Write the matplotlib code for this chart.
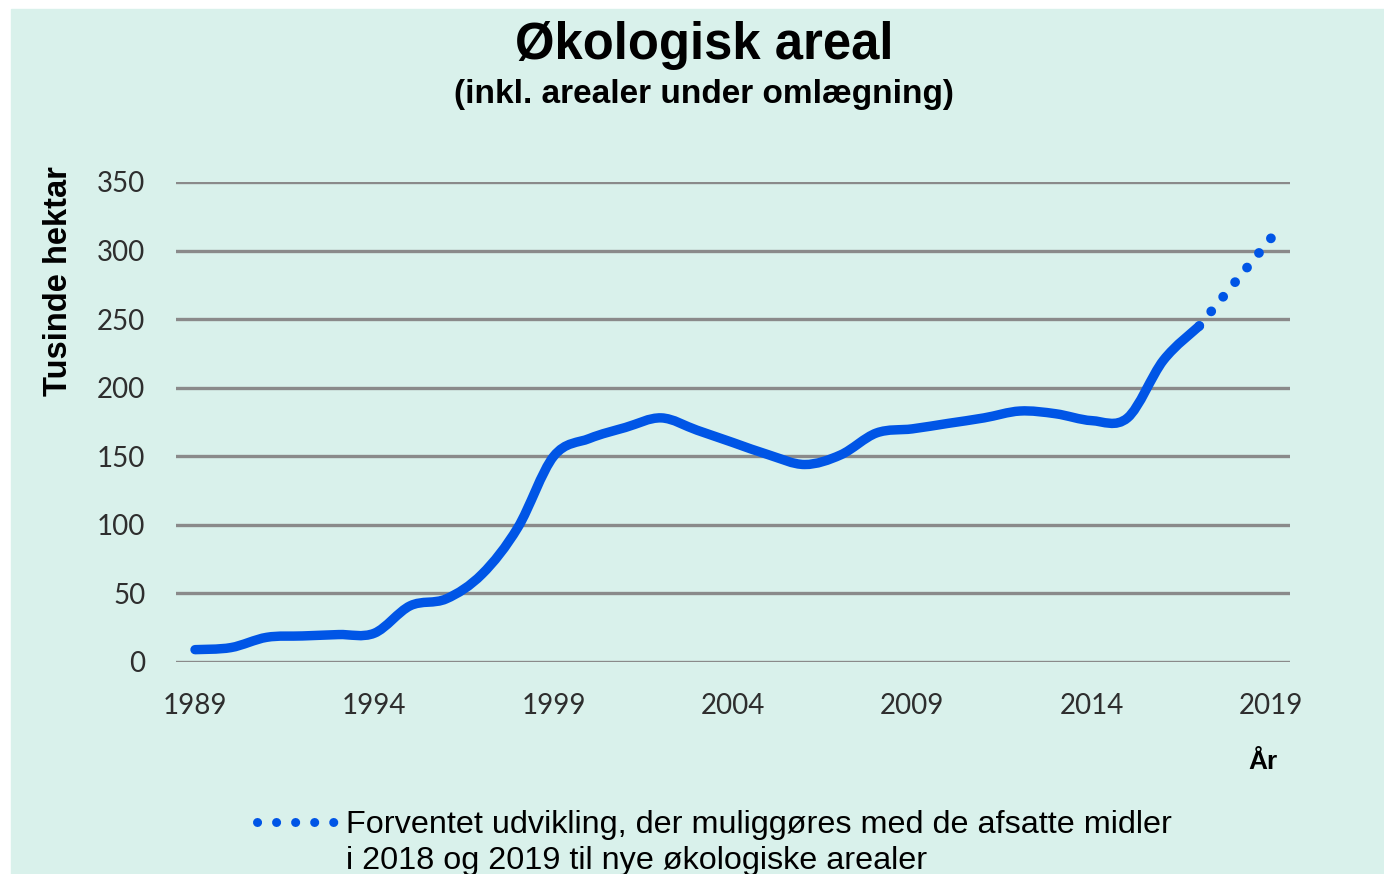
import matplotlib
matplotlib.use("Agg")
import matplotlib.pyplot as plt
import numpy as np
from matplotlib.path import Path
from matplotlib.patches import PathPatch, Rectangle
from matplotlib.lines import Line2D

# --- data (thousand hectares) ---
years = list(range(1989, 2018))
areal = [9, 10.5, 18, 19, 20, 21, 41, 46, 64, 98, 150, 163, 171, 178, 169,
         160, 151, 144, 151, 167, 170, 174, 178, 183, 181, 176, 178, 220, 245]
proj_years = [2017, 2018, 2019]
proj_areal = [245, 277, 309]

yticks = [0, 50, 100, 150, 200, 250, 300, 350]
xticks = [1989, 1994, 1999, 2004, 2009, 2014, 2019]

title = "Økologisk areal"
subtitle = "(inkl. arealer under omlægning)"
ylabel = "Tusinde hektar"
xlabel = "År"
legend_lines = ["Forventet udvikling, der muliggøres med de afsatte midler",
                "i 2018 og 2019 til nye økologiske arealer"]

BG = "#d9f1eb"
BLUE = "#0055e6"
GRID = "#8a8a8a"


def smooth_path(x, y):
    """Excel-like smoothed line: Catmull-Rom segments as cubic Beziers."""
    p = np.column_stack([x, y]).astype(float)
    ext = np.vstack([p[0], p, p[-1]])
    verts = [p[0]]
    codes = [Path.MOVETO]
    for i in range(len(p) - 1):
        p0, p1, p2, p3 = ext[i], ext[i + 1], ext[i + 2], ext[i + 3]
        verts += [p1 + (p2 - p0) / 6, p2 - (p3 - p1) / 6, p2]
        codes += [Path.CURVE4] * 3
    return Path(verts, codes)


fig = plt.figure(figsize=(13.84, 8.74), dpi=100, facecolor="white")
fig.patches.append(Rectangle((11 / 1384, 0), 1, 1 - 9 / 874,
                             transform=fig.transFigure, color=BG, zorder=-5))

ax = fig.add_axes([176 / 1384, 1 - 662 / 874, 1114 / 1384, 480 / 874])
ax.set_facecolor("none")

ax.add_patch(PathPatch(smooth_path(years, areal), fill=False, edgecolor=BLUE,
                       lw=6.8, capstyle="round", joinstyle="round", zorder=3))
ax.plot(proj_years, proj_areal, color=BLUE, lw=7.0,
        ls=(0, (0.01, 1.93)), dash_capstyle="round", zorder=3)

ax.set_xlim(1988.47, 2019.53)
ax.set_ylim(0, 350)
ax.set_xticks(xticks)
ax.set_yticks(yticks)
ax.tick_params(length=0, labelsize=20, labelcolor="#2e2e2e")
ax.tick_params(axis="y", pad=22)
ax.tick_params(axis="x", pad=22)
for lbl in ax.get_xticklabels() + ax.get_yticklabels():
    lbl.set_family("Lato")
for s in ax.spines.values():
    s.set_visible(False)
ax.grid(axis="y", color=GRID, lw=2.4)
ax.set_axisbelow(True)

ax.set_ylabel(ylabel, fontsize=23.5, fontweight="bold", family="Liberation Sans")
ax.yaxis.set_label_coords(-0.092, 0.794)
ax.set_xlabel(xlabel, fontsize=19, fontweight="bold", family="Liberation Sans")
ax.xaxis.set_label_coords(0.976, -0.183)

fig.text(704 / 1384, 1 - 46 / 874, title, ha="center", va="center",
         fontsize=36.5, fontweight="bold", family="Liberation Sans")
fig.text(704 / 1384, 1 - 94 / 874, subtitle, ha="center", va="center",
         fontsize=24, fontweight="bold", family="Liberation Sans")

blank = Line2D([], [], color="none")
handle = Line2D([], [], color=BLUE, lw=6.5, ls=(0, (0.01, 2.1)),
                dash_capstyle="round")
ax.legend([handle, blank], legend_lines, loc="upper left",
          bbox_to_anchor=(257 / 1384, 1 - 810 / 874), bbox_transform=fig.transFigure,
          frameon=False, borderpad=0, borderaxespad=0, handlelength=2.4,
          handletextpad=0.34, labelspacing=0.2,
          prop={"family": "Liberation Sans", "size": 23.3})

fig.savefig("out.png", dpi=100, facecolor=fig.get_facecolor())
